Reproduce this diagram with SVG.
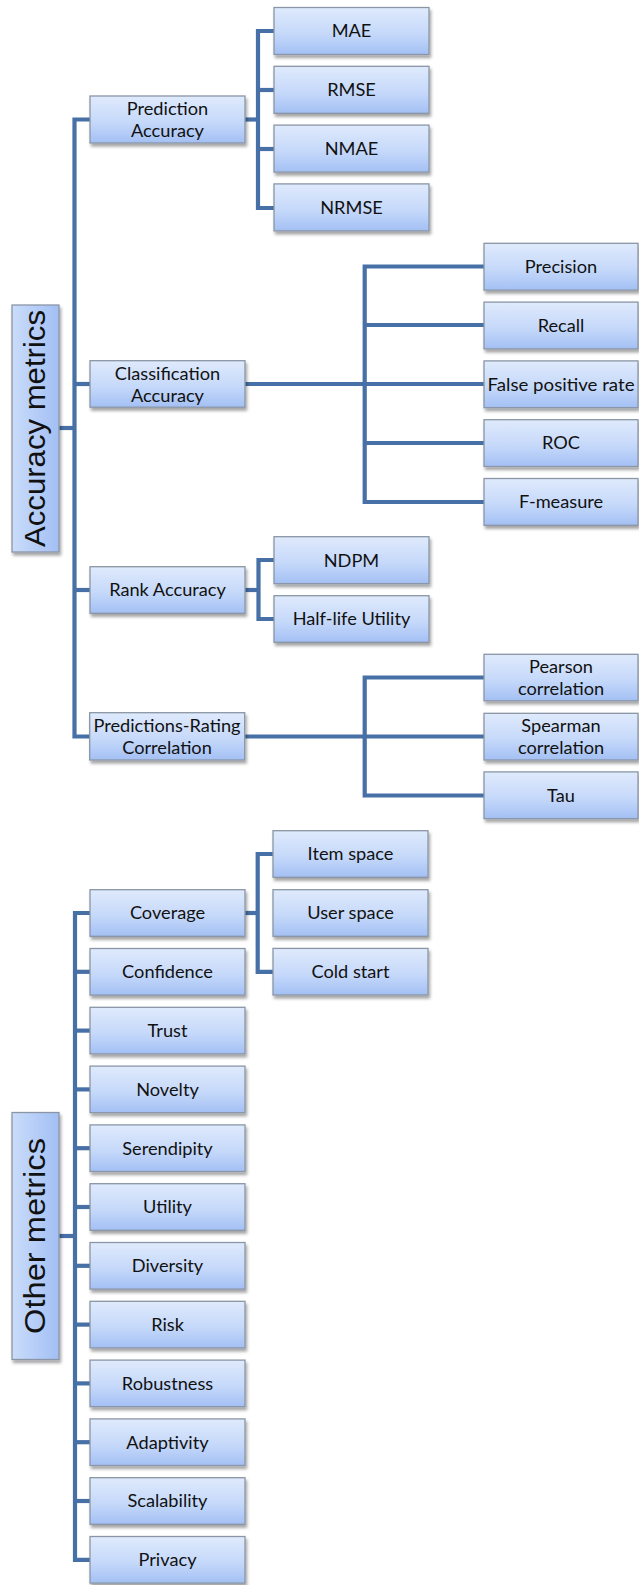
<svg xmlns="http://www.w3.org/2000/svg" width="639" height="1585" viewBox="0 0 639 1585">
  <defs>
    <linearGradient id="boxFill" x1="0" y1="0" x2="0" y2="1">
      <stop offset="0" stop-color="#dfeafc"/>
      <stop offset="0.55" stop-color="#c6d9fa"/>
      <stop offset="1" stop-color="#a3c0f4"/>
    </linearGradient>
    <linearGradient id="rootFill" x1="0" y1="0" x2="1" y2="0">
      <stop offset="0" stop-color="#cadcfa"/>
      <stop offset="1" stop-color="#a2bff4"/>
    </linearGradient>
    <filter id="shadow" x="-10%" y="-20%" width="130%" height="160%">
      <feDropShadow dx="1.5" dy="3" stdDeviation="1.6" flood-color="#000" flood-opacity="0.35"/>
    </filter>
    <style>
      .box { fill: url(#boxFill); stroke: #8a96a6; stroke-width: 1.3; filter: url(#shadow); }
      .root { fill: url(#rootFill); stroke: #8a96a6; stroke-width: 1.3; filter: url(#shadow); }
      .lbl { font-family: Lato, "Open Sans", sans-serif; font-size: 18.2px; fill: #111; text-anchor: middle; }
      .rootlbl { font-family: "Liberation Sans", Arial, sans-serif; font-size: 29px; fill: #111; text-anchor: middle; }
      .conn path { fill: none; stroke: #4670a6; stroke-width: 4.2; stroke-linejoin: miter; }
    </style>
  </defs>

  <!-- connectors -->
  <g id="connectors" class="conn">
    <!-- Accuracy metrics trunk -->
    <path d="M59 428 H74.5"/>
    <path d="M90 119.5 H74.5 V736.5 H90"/>
    <path d="M74.5 384 H90"/>
    <path d="M74.5 590 H90"/>
    <!-- Prediction Accuracy -->
    <path d="M245 119.5 H258"/>
    <path d="M274 31 H258 V208 H274"/>
    <path d="M258 90 H274"/>
    <path d="M258 149 H274"/>
    <!-- Classification Accuracy -->
    <path d="M245 384 H484"/>
    <path d="M484 266.5 H364.7 V502 H484"/>
    <path d="M364.7 325 H484"/>
    <path d="M364.7 443 H484"/>
    <!-- Rank Accuracy -->
    <path d="M245 590 H258.5"/>
    <path d="M274 560 H258.5 V619 H274"/>
    <!-- Predictions-Rating Correlation -->
    <path d="M245 736.5 H484"/>
    <path d="M484 677.5 H364.7 V795.5 H484"/>
    <!-- Other metrics trunk -->
    <path d="M59 1236 H75"/>
    <path d="M90 913 H75 V1559.8 H90"/>
    <path d="M75 971.8 H90"/>
    <path d="M75 1030.6 H90"/>
    <path d="M75 1089.4 H90"/>
    <path d="M75 1148.2 H90"/>
    <path d="M75 1207 H90"/>
    <path d="M75 1265.8 H90"/>
    <path d="M75 1324.6 H90"/>
    <path d="M75 1383.4 H90"/>
    <path d="M75 1442.2 H90"/>
    <path d="M75 1501 H90"/>
    <!-- Coverage -->
    <path d="M245 913 H257.7"/>
    <path d="M273 854 H257.7 V971.8 H273"/>
  </g>

  <!-- root nodes -->
  <g id="accuracy-metrics">
    <rect class="root" x="12" y="305" width="47" height="247"/>
    <text class="rootlbl" transform="translate(45 428.5) rotate(-90)" textLength="237" lengthAdjust="spacingAndGlyphs">Accuracy metrics</text>
  </g>
  <g id="other-metrics">
    <rect class="root" x="12" y="1112.5" width="47" height="247"/>
    <text class="rootlbl" transform="translate(45 1236) rotate(-90)" textLength="196" lengthAdjust="spacingAndGlyphs">Other metrics</text>
  </g>

  <!-- accuracy branch -->
  <g id="prediction-accuracy">
    <rect class="box" x="90" y="96" width="155" height="47"/>
    <text class="lbl" x="167.5" y="115">Prediction</text>
    <text class="lbl" x="167.5" y="136.7">Accuracy</text>
  </g>
  <g id="mae"><rect class="box" x="274" y="7.5" width="155" height="47"/><text class="lbl" x="351.5" y="37.3">MAE</text></g>
  <g id="rmse"><rect class="box" x="274" y="66.3" width="155" height="47"/><text class="lbl" x="351.5" y="96.1">RMSE</text></g>
  <g id="nmae"><rect class="box" x="274" y="125.1" width="155" height="47"/><text class="lbl" x="351.5" y="154.9">NMAE</text></g>
  <g id="nrmse"><rect class="box" x="274" y="183.9" width="155" height="47"/><text class="lbl" x="351.5" y="213.7">NRMSE</text></g>

  <g id="classification-accuracy">
    <rect class="box" x="90" y="360.7" width="155" height="46.5"/>
    <text class="lbl" x="167.5" y="379.5">Classification</text>
    <text class="lbl" x="167.5" y="401.5">Accuracy</text>
  </g>
  <g id="precision"><rect class="box" x="484" y="243.3" width="154" height="46.8"/><text class="lbl" x="561" y="273">Precision</text></g>
  <g id="recall"><rect class="box" x="484" y="302.1" width="154" height="46.8"/><text class="lbl" x="561" y="331.8">Recall</text></g>
  <g id="false-positive-rate"><rect class="box" x="484" y="360.9" width="154" height="46.8"/><text class="lbl" x="561" y="390.6" textLength="147" lengthAdjust="spacingAndGlyphs">False positive rate</text></g>
  <g id="roc"><rect class="box" x="484" y="419.7" width="154" height="46.8"/><text class="lbl" x="561" y="449.4">ROC</text></g>
  <g id="f-measure"><rect class="box" x="484" y="478.5" width="154" height="46.8"/><text class="lbl" x="561" y="508.2">F-measure</text></g>

  <g id="rank-accuracy">
    <rect class="box" x="90" y="566.7" width="155" height="46.6"/>
    <text class="lbl" x="167.5" y="596.3">Rank Accuracy</text>
  </g>
  <g id="ndpm"><rect class="box" x="274" y="536.7" width="155" height="47"/><text class="lbl" x="351.5" y="566.5">NDPM</text></g>
  <g id="half-life-utility"><rect class="box" x="274" y="595.7" width="155" height="46.6"/><text class="lbl" x="351.5" y="625.3">Half-life Utility</text></g>

  <g id="predictions-rating-correlation">
    <rect class="box" x="89.7" y="712.7" width="155" height="47.3"/>
    <text class="lbl" x="167" y="731.5">Predictions-Rating</text>
    <text class="lbl" x="167" y="754">Correlation</text>
  </g>
  <g id="pearson-correlation">
    <rect class="box" x="484" y="654.3" width="154" height="46.5"/>
    <text class="lbl" x="561" y="673">Pearson</text>
    <text class="lbl" x="561" y="695">correlation</text>
  </g>
  <g id="spearman-correlation">
    <rect class="box" x="484" y="713.3" width="154" height="46.7"/>
    <text class="lbl" x="561" y="732">Spearman</text>
    <text class="lbl" x="561" y="754">correlation</text>
  </g>
  <g id="tau"><rect class="box" x="484" y="771.9" width="154" height="46.8"/><text class="lbl" x="561" y="801.6">Tau</text></g>

  <!-- other metrics branch -->
  <g id="coverage"><rect class="box" x="90" y="889.7" width="155" height="46.6"/><text class="lbl" x="167.5" y="919.3">Coverage</text></g>
  <g id="item-space"><rect class="box" x="273" y="830.7" width="155" height="46.6"/><text class="lbl" x="350.5" y="860.3">Item space</text></g>
  <g id="user-space"><rect class="box" x="273" y="889.7" width="155" height="46.6"/><text class="lbl" x="350.5" y="919.3">User space</text></g>
  <g id="cold-start"><rect class="box" x="273" y="948.4" width="155" height="46.6"/><text class="lbl" x="350.5" y="978">Cold start</text></g>

  <g id="confidence"><rect class="box" x="90" y="948.5" width="155" height="46.6"/><text class="lbl" x="167.5" y="978.1">Confidence</text></g>
  <g id="trust"><rect class="box" x="90" y="1007.3" width="155" height="46.6"/><text class="lbl" x="167.5" y="1036.9">Trust</text></g>
  <g id="novelty"><rect class="box" x="90" y="1066.1" width="155" height="46.6"/><text class="lbl" x="167.5" y="1095.7">Novelty</text></g>
  <g id="serendipity"><rect class="box" x="90" y="1124.9" width="155" height="46.6"/><text class="lbl" x="167.5" y="1154.5">Serendipity</text></g>
  <g id="utility"><rect class="box" x="90" y="1183.7" width="155" height="46.6"/><text class="lbl" x="167.5" y="1213.3">Utility</text></g>
  <g id="diversity"><rect class="box" x="90" y="1242.5" width="155" height="46.6"/><text class="lbl" x="167.5" y="1272.1">Diversity</text></g>
  <g id="risk"><rect class="box" x="90" y="1301.3" width="155" height="46.6"/><text class="lbl" x="167.5" y="1330.9">Risk</text></g>
  <g id="robustness"><rect class="box" x="90" y="1360.1" width="155" height="46.6"/><text class="lbl" x="167.5" y="1389.7">Robustness</text></g>
  <g id="adaptivity"><rect class="box" x="90" y="1418.9" width="155" height="46.6"/><text class="lbl" x="167.5" y="1448.5">Adaptivity</text></g>
  <g id="scalability"><rect class="box" x="90" y="1477.7" width="155" height="46.6"/><text class="lbl" x="167.5" y="1507.3">Scalability</text></g>
  <g id="privacy"><rect class="box" x="90" y="1536.5" width="155" height="46.6"/><text class="lbl" x="167.5" y="1566.1">Privacy</text></g>
</svg>
